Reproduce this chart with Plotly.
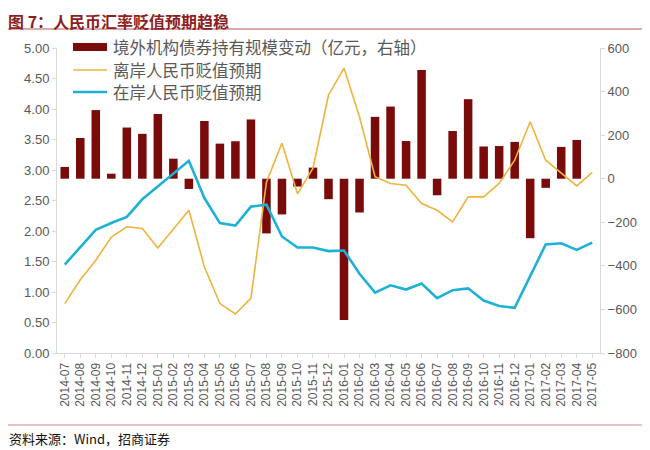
import plotly.graph_objects as go

months = ["2014-07","2014-08","2014-09","2014-10","2014-11","2014-12",
          "2015-01","2015-02","2015-03","2015-04","2015-05","2015-06",
          "2015-07","2015-08","2015-09","2015-10","2015-11","2015-12",
          "2016-01","2016-02","2016-03","2016-04","2016-05","2016-06",
          "2016-07","2016-08","2016-09","2016-10","2016-11","2016-12",
          "2017-01","2017-02","2017-03","2017-04","2017-05"]

# 境外机构债券持有规模变动（亿元，右轴） — no value for 2017-05
bond_change = [54, 187, 315, 23, 235, 206, 297, 92, -47, 265, 161, 172,
               272, -251, -164, -36, 51, -94, -648, -155, 284, 331, 173, 499,
               -76, 219, 365, 148, 150, 169, -273, -42, 146, 178, None]

offshore = [0.81, 1.20, 1.52, 1.90, 2.07, 2.04, 1.72, 2.03, 2.34, 1.41, 0.81, 0.64,
            0.90, 2.80, 3.44, 2.61, 3.03, 4.23, 4.67, 3.87, 2.89, 2.78, 2.75, 2.45,
            2.34, 2.15, 2.56, 2.56, 2.78, 3.16, 3.79, 3.16, 2.95, 2.74, 2.96]

onshore = [1.45, 1.74, 2.02, 2.13, 2.23, 2.52, 2.73, 2.93, 3.15, 2.54, 2.13, 2.09,
           2.40, 2.43, 1.91, 1.73, 1.73, 1.67, 1.68, 1.30, 0.99, 1.11, 1.04, 1.14,
           0.90, 1.03, 1.06, 0.86, 0.77, 0.74, 1.25, 1.78, 1.80, 1.69, 1.81]

names = ["境外机构债券持有规模变动（亿元，右轴）", "离岸人民币贬值预期", "在岸人民币贬值预期"]

BAR = "#7a0b0b"
ORANGE = "#f0b33c"
CYAN = "#1eb1d6"
AXIS = "#d9d9d9"
TXT = "#595959"
FONT = "Noto Sans CJK SC, Liberation Sans, sans-serif"
NUMFONT = "Liberation Sans, sans-serif"

fig = go.Figure()
fig.add_trace(go.Bar(x=months, y=bond_change, name=names[0], marker_color=BAR,
                     marker_line_width=0, width=0.55, yaxis="y", showlegend=False))
fig.add_trace(go.Scatter(x=months, y=offshore, name=names[1], mode="lines",
                         line=dict(color=ORANGE, width=1.6), yaxis="y2", showlegend=False))
fig.add_trace(go.Scatter(x=months, y=onshore, name=names[2], mode="lines",
                         line=dict(color=CYAN, width=2.6), yaxis="y2", showlegend=False))

# page body adds an 8px offset; positions below are given in reference pixels
def px_y(py):
    return (353 - py) / 305.0

def px_x(px):
    return (px - 57) / 543.0

fig.update_layout(
    width=642, height=442,
    margin=dict(l=49, r=50, t=40, b=97, autoexpand=False),
    paper_bgcolor="white", plot_bgcolor="white",
    font=dict(family=FONT, color=TXT, size=13),
    xaxis=dict(type="category", range=[-0.5, 34.5], tickangle=-90,
               showline=True, linecolor=AXIS, linewidth=1,
               ticks="outside", ticklen=4, tickcolor=AXIS,
               showgrid=False, tickfont=dict(size=12, color=TXT, family=NUMFONT)),
    yaxis=dict(side="right", range=[-800, 600], dtick=200,
               showline=True, linecolor=AXIS, ticks="outside", ticklen=4,
               tickcolor=AXIS, showgrid=False, zeroline=False,
               tickfont=dict(size=13, color=TXT, family=NUMFONT)),
    yaxis2=dict(side="left", overlaying="y", range=[0, 5], dtick=0.5,
                tickformat=".2f", showline=True, linecolor=AXIS, ticks="outside",
                ticklen=4, tickcolor=AXIS, showgrid=False, zeroline=False,
                tickfont=dict(size=13, color=TXT, family=NUMFONT)),
)

# legend drawn by hand (wide swatches like the reference)
legend_rows = [(47, "rect", BAR, 0), (70, "line", ORANGE, 1.6), (92, "line", CYAN, 2.6)]
for (py, kind, col, w), label in zip(legend_rows, names):
    if kind == "rect":
        fig.add_shape(type="rect", xref="paper", yref="paper",
                      x0=px_x(73), x1=px_x(107), y0=px_y(py + 4), y1=px_y(py - 4),
                      fillcolor=col, line=dict(width=0))
    else:
        fig.add_shape(type="line", xref="paper", yref="paper",
                      x0=px_x(73), x1=px_x(107), y0=px_y(py), y1=px_y(py),
                      line=dict(color=col, width=w))
    fig.add_annotation(xref="paper", yref="paper", x=px_x(112), y=px_y(py),
                       xanchor="left", yanchor="middle", showarrow=False,
                       borderpad=0,
                       text=label, font=dict(size=16.5, color=TXT, family=FONT))

fig.add_shape(type="line", xref="paper", yref="paper",
              x0=px_x(5), x1=px_x(645), y0=px_y(29), y1=px_y(29),
              line=dict(color="#b45a5a", width=1.2))
fig.add_shape(type="line", xref="paper", yref="paper",
              x0=px_x(5), x1=px_x(645), y0=px_y(425), y1=px_y(425),
              line=dict(color="#c98a8a", width=1.2))

fig.add_annotation(xref="paper", yref="paper", x=px_x(7), y=px_y(8),
                   xanchor="left", yanchor="top", showarrow=False, borderpad=0,
                   text="<b>图 7：人民币汇率贬值预期趋稳</b>",
                   font=dict(size=16, color="#8c1f1f", family=FONT))
fig.add_annotation(xref="paper", yref="paper", x=px_x(7), y=px_y(438),
                   xanchor="left", yanchor="middle", showarrow=False,
                   text="资料来源：Wind，招商证券",
                   font=dict(size=13, color="#111111", family=FONT))

fig.write_html("out.html")
